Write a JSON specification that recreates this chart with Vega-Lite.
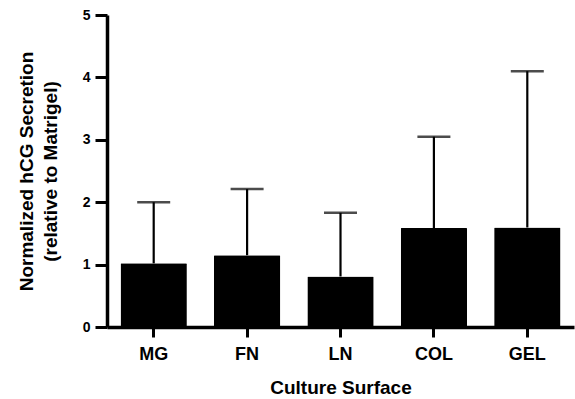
{
  "$schema": "https://vega.github.io/schema/vega-lite/v6.json",
  "autosize": "none",
  "width": 467,
  "height": 312,
  "padding": {"left": 107, "top": 15, "right": 1, "bottom": 72},
  "background": "white",
  "config": {
    "view": {"stroke": null},
    "font": "Liberation Sans"
  },
  "data": {
    "values": [
      {"surface": "MG", "mean": 1.02, "upper": 2.0},
      {"surface": "FN", "mean": 1.15, "upper": 2.21},
      {"surface": "LN", "mean": 0.81, "upper": 1.83},
      {"surface": "COL", "mean": 1.585, "upper": 3.05},
      {"surface": "GEL", "mean": 1.595, "upper": 4.1}
    ]
  },
  "encoding": {
    "x": {
      "field": "surface",
      "type": "nominal",
      "sort": null,
      "scale": {"paddingInner": 0.29, "paddingOuter": 0.145},
      "axis": {
        "title": "Culture Surface",
        "labelAngle": 0,
        "labelFont": "Liberation Sans",
        "labelFontWeight": "bold",
        "labelFontSize": 18,
        "labelColor": "black",
        "labelPadding": 8,
        "tickSize": 10,
        "tickWidth": 3,
        "tickColor": "black",
        "domainWidth": 3.5,
        "domainColor": "black",
        "titleFont": "Liberation Sans",
        "titleFontWeight": "bold",
        "titleFontSize": 19,
        "titleColor": "black",
        "titlePadding": 15
      }
    }
  },
  "layer": [
    {
      "mark": {"type": "rule", "color": "black", "strokeWidth": 2.2},
      "encoding": {
        "y": {"field": "mean", "type": "quantitative"},
        "y2": {"field": "upper"}
      }
    },
    {
      "mark": {"type": "tick", "color": "black", "size": 33, "thickness": 2.5},
      "encoding": {
        "y": {"field": "upper", "type": "quantitative"}
      }
    },
    {
      "mark": {"type": "bar", "color": "black", "cornerRadius": 1},
      "encoding": {
        "y": {
          "field": "mean",
          "type": "quantitative",
          "scale": {"domain": [0, 5], "nice": false},
          "axis": {
            "title": ["Normalized hCG  Secretion", "(relative to Matrigel)"],
            "values": [0, 1, 2, 3, 4, 5],
            "format": "d",
            "grid": false,
            "labelFont": "Liberation Sans",
            "labelFontWeight": "bold",
            "labelFontSize": 14,
            "labelColor": "black",
            "labelPadding": 5,
            "tickSize": 12,
            "tickWidth": 3,
            "tickColor": "black",
            "domainWidth": 3.5,
            "domainColor": "black",
            "titleFont": "Liberation Sans",
            "titleFontWeight": "bold",
            "titleFontSize": 19,
            "titleLineHeight": 24,
            "titleColor": "black",
            "titlePadding": 22
          }
        }
      }
    }
  ]
}
